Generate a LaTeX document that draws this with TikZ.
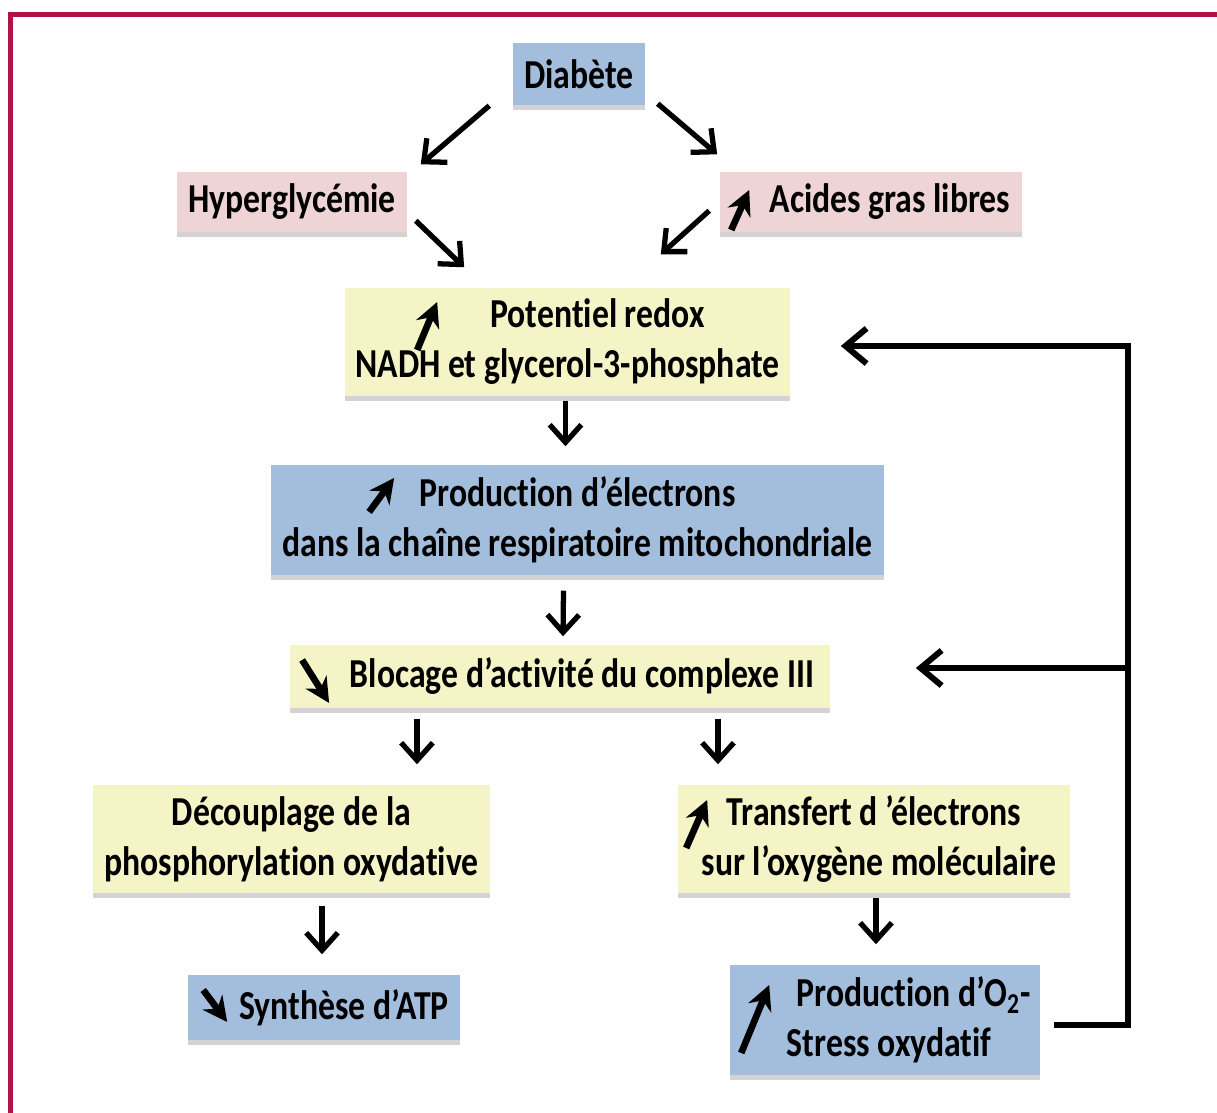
\documentclass[tikz,border=0pt]{standalone}
\usepackage{fontspec}
\setmainfont{Carlito}[FakeStretch=0.82, Ligatures=CommonOff]
\usepackage{tikz}
\usetikzlibrary{arrows.meta, calc, shadows}
\definecolor{cadre}{HTML}{B0124C}
\definecolor{bleu}{HTML}{A3BEDD}
\definecolor{rose}{HTML}{EED4D4}
\definecolor{jaune}{HTML}{F4F4C6}

\begin{document}
\begin{tikzpicture}[x=0.01cm, y=-0.01cm, font=\fontsize{11.7pt}{14.2pt}\selectfont\bfseries]
  \tikzset{
    boite/.style={inner sep=0pt, align=center, drop shadow={shadow xshift=0pt, shadow yshift=-0.05cm, opacity=0.35}},
    fleche/.style={line width=1.5pt, -{Straight Barb[length=5pt, width=9pt]}},
    boucle/.style={line width=1.7pt, -{Straight Barb[length=6pt, width=10pt]}},
    tendance/.style={line width=1.9pt, -{Stealth[length=7pt, width=7pt]}}
  }
  \useasboundingbox (0,0) rectangle (1217,1113);

  % Cadre
  \draw[cadre, line width=0.05cm] (1217,14.5) -- (10.5,14.5) -- (10.5,1113);

  % Haut : diabete et causes
  \node[boite, fill=bleu, minimum width=1.32cm, minimum height=0.62cm] (diab) at (579,74) {Diabète};
  \node[boite, fill=rose, minimum width=2.30cm, minimum height=0.60cm] (hyper) at (292,202) {Hyperglycémie};
  \node[boite, fill=rose, minimum width=3.02cm, minimum height=0.60cm] (acides) at (871,202) {\hspace*{0.38cm}Acides gras libres};

  % Chaine centrale
  \node[boite, fill=jaune, minimum width=4.45cm, minimum height=1.08cm] (pot) at (567.5,342) {\hspace*{0.6cm}Potentiel redox\\NADH et glycerol-3-phosphate};
  \node[boite, fill=bleu, minimum width=6.13cm, minimum height=1.10cm] (prod) at (577.5,520) {Production d’électrons\\dans la chaîne respiratoire mitochondriale};
  \node[boite, fill=jaune, minimum width=5.40cm, minimum height=0.63cm] (bloc) at (560,676.5) {\hspace*{0.44cm}Blocage d’activité du complexe III};

  % Branche gauche
  \node[boite, fill=jaune, minimum width=3.97cm, minimum height=1.08cm] (decoup) at (291.5,839) {Découplage de la\\phosphorylation oxydative};
  \node[boite, fill=bleu, minimum width=2.72cm, minimum height=0.65cm] (synth) at (324,1007.5) {\hspace*{0.4cm}Synthèse d’ATP};

  % Branche droite
  \node[boite, fill=jaune, minimum width=3.92cm, minimum height=1.08cm] (transf) at (874,839) {Transfert d ’électrons\\\hspace*{0.1cm}sur l’oxygène moléculaire};
  \node[boite, fill=bleu, minimum width=3.10cm, minimum height=1.10cm, align=left] (prodO) at (885,1020) {\hspace*{0.58cm}Production d’O\textsubscript{2}-\\\hspace*{0.48cm}Stress oxydatif};

  % Fleches de tendance dans les boites
  \draw[tendance] ($(acides.west)+(12,28)$) -- ($(acides.west)+(30,-12)$);
  \draw[tendance] ($(pot.west)+(73,8)$) -- ($(pot.west)+(93,-40)$);
  \draw[tendance] ($(prod.west)+(99,-8)$) -- ($(prod.west)+(124,-42)$);
  \draw[tendance] ($(bloc.west)+(13,-16.5)$) -- ($(bloc.west)+(40,26.5)$);
  \draw[tendance] ($(synth.west)+(16,-17.5)$) -- ($(synth.west)+(40,14.5)$);
  \draw[tendance] ($(transf.west)+(9,9)$) -- ($(transf.west)+(30,-39)$);
  \draw[tendance] ($(prodO.west)+(12,33)$) -- ($(prodO.west)+(40,-35)$);

  % Liens
  \draw[fleche] ($(diab.south west)+(-23,0)$) -- ($(hyper.north east)+(13,-7)$);
  \draw[fleche] ($(diab.south east)+(12,-2)$) -- ($(acides.north west)+(-2,-17)$);
  \draw[fleche] ($(hyper.south east)+(8,-12)$) -- ($(pot.north west)+(120,-20)$);
  \draw[fleche] ($(acides.south west)+(-10,-22)$) -- ($(pot.north east)+(-130,-33)$);
  \draw[fleche] ($(pot.south)+(-2,4)$) -- ($(prod.north)+(-12,-18)$);
  \draw[fleche] ($(prod.south)+(-14,15)$) -- ($(bloc.north)+(3,-8)$);
  \draw[fleche] ($(bloc.south)+(-143,10)$) -- ($(decoup.north)+(125.5,-20)$);
  \draw[fleche] ($(bloc.south)+(158,10)$) -- ($(transf.north)+(-156,-20)$);
  \draw[fleche] ($(decoup.south)+(30.5,12)$) -- ($(synth.north)+(-2,-20)$);
  \draw[fleche] ($(transf.south)+(2,4)$) -- ($(prodO.north)+(-9,-20)$);

  % Boucle de retroaction
  \coordinate (dessous) at ($(prodO.east)+(13,5)$);
  \coordinate (rail) at (1128,0);
  \draw[boucle] (dessous) -- (dessous -| rail) |- ($(pot.east)+(50,4)$);
  \draw[boucle] ($(bloc.east -| rail)+(0,-8.5)$) -- ($(bloc.east)+(85,-8.5)$);
\end{tikzpicture}
\end{document}
